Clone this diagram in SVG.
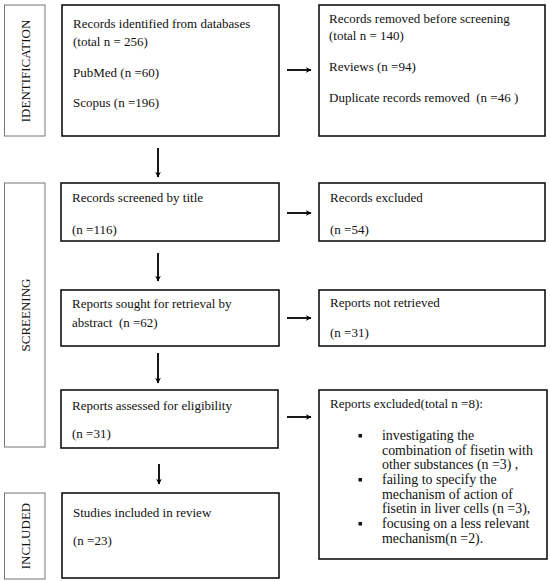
<svg xmlns="http://www.w3.org/2000/svg" width="550" height="581" viewBox="0 0 550 581">
<defs>
<marker id="ah" viewBox="0 0 10 10" refX="9" refY="5" markerWidth="3.2" markerHeight="3.2" orient="auto" markerUnits="strokeWidth">
<path d="M0,0 L10,5 L0,10 L3,5 Z" fill="#000"/>
</marker>
</defs>
<style>
text{font-family:"Liberation Serif","Times New Roman",serif;font-size:13px;fill:#111}
.box{fill:#fff;stroke:#111;stroke-width:1.6}
.side{fill:#fff;stroke:#777;stroke-width:1}
.bul{font-size:13.9px}
.arr{stroke:#000;stroke-width:1.8;fill:none;marker-end:url(#ah)}
.sq{fill:#111}
</style>
<rect width="550" height="581" fill="#fff"/>
<g id="label-identification">
<rect class="side" x="4.5" y="5" width="40.5" height="131"/>
<text transform="translate(29.5,71) rotate(-90)" text-anchor="middle">IDENTIFICATION</text>
</g>
<g id="label-screening">
<rect class="side" x="4.5" y="183" width="40.5" height="264"/>
<text transform="translate(29.5,315) rotate(-90)" text-anchor="middle">SCREENING</text>
</g>
<g id="label-included">
<rect class="side" x="4.5" y="493" width="40.5" height="86"/>
<text transform="translate(29.5,536) rotate(-90)" text-anchor="middle">INCLUDED</text>
</g>
<g id="identified">
<rect class="box" x="62" y="5" width="217" height="131"/>
<text x="73" y="28">Records identified from databases</text>
<text x="73" y="46">(total n = 256)</text>
<text x="73" y="77">PubMed (n =60)</text>
<text x="73" y="107">Scopus (n =196)</text>
</g>
<g id="removed">
<rect class="box" x="319" y="5" width="226" height="131"/>
<text x="329" y="23">Records removed before screening</text>
<text x="329" y="40">(total n = 140)</text>
<text x="329" y="71">Reviews (n =94)</text>
<text x="329" y="102" xml:space="preserve">Duplicate records removed  (n =46 )</text>
</g>
<g id="screened">
<rect class="box" x="61" y="183" width="218" height="58"/>
<text x="72" y="202">Records screened by title</text>
<text x="72" y="234">(n =116)</text>
</g>
<g id="excluded">
<rect class="box" x="319" y="183" width="226" height="58"/>
<text x="330" y="202">Records excluded</text>
<text x="330" y="234">(n =54)</text>
</g>
<g id="sought">
<rect class="box" x="61" y="290" width="218" height="56"/>
<text x="72" y="308">Reports sought for retrieval by</text>
<text x="72" y="327" xml:space="preserve">abstract  (n =62)</text>
</g>
<g id="not-retrieved">
<rect class="box" x="319" y="290" width="226" height="56"/>
<text x="330" y="307">Reports not retrieved</text>
<text x="330" y="337">(n =31)</text>
</g>
<g id="assessed">
<rect class="box" x="61" y="390" width="217" height="58"/>
<text x="72" y="410">Reports assessed for eligibility</text>
<text x="72" y="438">(n =31)</text>
</g>
<g id="reports-excluded">
<rect class="box" x="319" y="390" width="228" height="169"/>
<text x="330" y="408">Reports excluded(total n =8):</text>
<rect class="sq" x="358.5" y="434" width="3.5" height="3.5"/>
<text class="bul" x="382" y="440">investigating the</text>
<text class="bul" x="382" y="455">combination of fisetin with</text>
<text class="bul" x="382" y="469">other substances (n =3) ,</text>
<rect class="sq" x="358.5" y="478" width="3.5" height="3.5"/>
<text class="bul" x="382" y="484">failing to specify the</text>
<text class="bul" x="382" y="499">mechanism of action of</text>
<text class="bul" x="382" y="513">fisetin in liver cells (n =3),</text>
<rect class="sq" x="358.5" y="522" width="3.5" height="3.5"/>
<text class="bul" x="382" y="528">focusing on a less relevant</text>
<text class="bul" x="382" y="543">mechanism(n =2).</text>
</g>
<g id="included">
<rect class="box" x="62" y="493" width="217" height="85"/>
<text x="73" y="517">Studies included in review</text>
<text x="73" y="545">(n =23)</text>
</g>
<g id="connectors">
<line class="arr" x1="158" y1="148" x2="158" y2="177"/>
<line class="arr" x1="158" y1="253" x2="158" y2="281"/>
<line class="arr" x1="158" y1="353" x2="158" y2="383"/>
<line class="arr" x1="159" y1="464" x2="159" y2="484"/>
<line class="arr" x1="287" y1="70" x2="311" y2="70"/>
<line class="arr" x1="287" y1="213" x2="311" y2="213"/>
<line class="arr" x1="287" y1="318" x2="311" y2="318"/>
<line class="arr" x1="287" y1="417" x2="311" y2="417"/>
</g>
</svg>
